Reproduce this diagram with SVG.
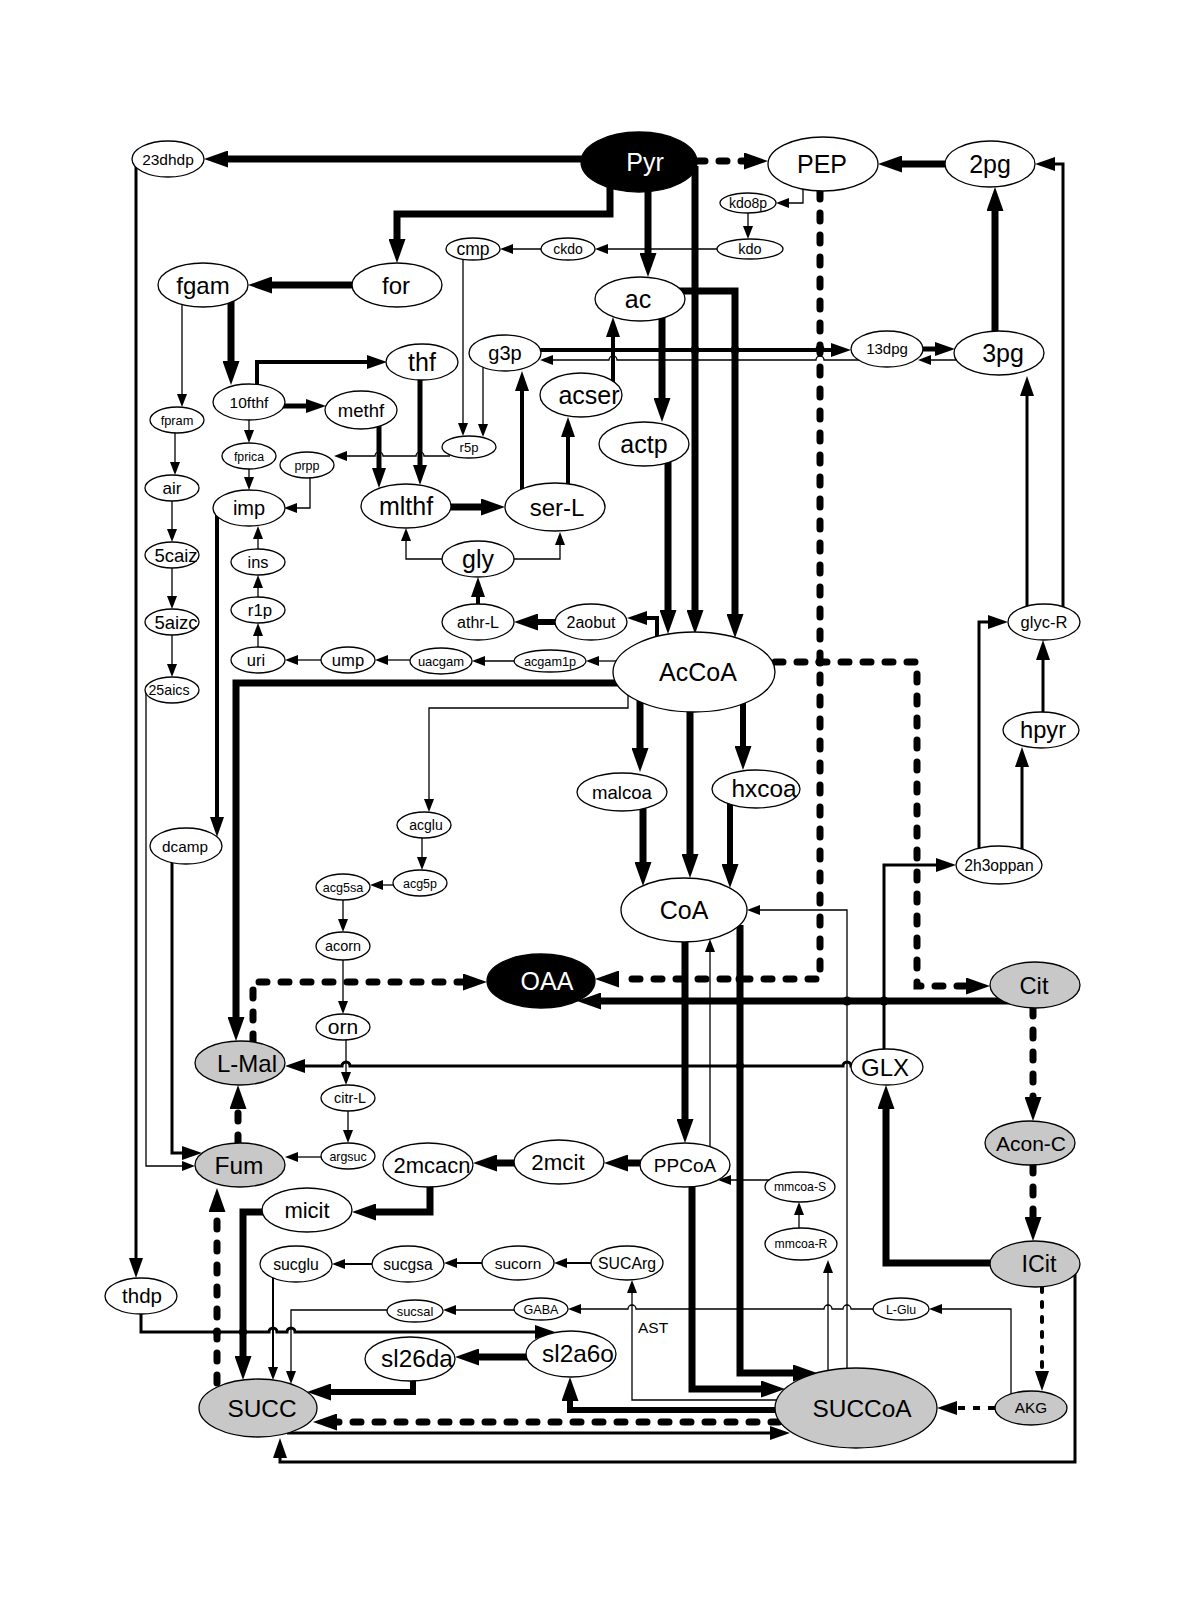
<svg xmlns="http://www.w3.org/2000/svg" width="1200" height="1619" viewBox="0 0 1200 1619">
<style>
text{font-family:"Liberation Sans",Arial,Helvetica,sans-serif;text-anchor:middle;fill:#000}
.nd ellipse{fill:#fff;stroke:#000;stroke-width:1.3}
.gr ellipse{fill:#c8c8c8}
.bk ellipse{fill:#000}
.bk text{fill:#fff}
.e{fill:none;stroke:#000}
.w7{stroke-width:7}
.w6{stroke-width:6}
.w5{stroke-width:5}
.w4{stroke-width:4}
.w3{stroke-width:3}
.w2{stroke-width:2}
.w1{stroke-width:1.3}
.d{stroke-dasharray:8 14;stroke-linecap:round}
.t{stroke-dasharray:5 10;stroke-linecap:round}
.t2{stroke-dasharray:7 8}
.B{marker-end:url(#ab)}
.M{marker-end:url(#am)}
.S{marker-end:url(#as)}
</style>
<defs>
<marker id="ab" markerWidth="24" markerHeight="17" refX="0" refY="8.5" orient="auto" markerUnits="userSpaceOnUse"><path d="M0,0 L24,8.5 L0,17 z"/></marker>
<marker id="am" markerWidth="20" markerHeight="14" refX="0" refY="7" orient="auto" markerUnits="userSpaceOnUse"><path d="M0,0 L20,7 L0,14 z"/></marker>
<marker id="as" markerWidth="13" markerHeight="10" refX="0" refY="5" orient="auto" markerUnits="userSpaceOnUse"><path d="M0,0 L13,5 L0,10 z"/></marker>
</defs>
<rect width="1200" height="1619" fill="#fff"/>
<g id="connectors">
<path class="e w7 B" d="M600,159 H228"/>
<path class="e w7 B" d="M610,185 V214 H397 V239"/>
<path class="e w7 B" d="M370,285 H272"/>
<path class="e w7 B" d="M231,298 V361"/>
<path class="e w7 B" d="M648,185 V253"/>
<path class="e w7 B" d="M695,166 V610"/>
<path class="e w7 B" d="M670,291 H735 V614"/>
<path class="e w7 B" d="M662,315 V398"/>
<path class="e w7 B" d="M668,460 V610"/>
<path class="e w7 B" d="M440,507 H481"/>
<path class="e w7 B" d="M960,164 H902"/>
<path class="e w7 B" d="M995,340 V211"/>
<path class="e w7 B" d="M630,683 H236 V1017"/>
<path class="e w7 B" d="M640,700 V748"/>
<path class="e w7 B" d="M643,805 V862"/>
<path class="e w7 B" d="M690,705 V854"/>
<path class="e w6 B" d="M743,700 V746"/>
<path class="e w6 B" d="M730,800 V864"/>
<path class="e w7 B" d="M1010,1001 H601"/>
<path class="e w7 B" d="M1000,1263 H886 V1109"/>
<path class="e w7 B" d="M685,935 V1119"/>
<path class="e w7 B" d="M650,1163 H628"/>
<path class="e w7 B" d="M520,1163 H497"/>
<path class="e w7 B" d="M430,1180 V1212 H376"/>
<path class="e w7 B" d="M270,1212 H243 V1356"/>
<path class="e w7 B" d="M692,1180 V1389 H761"/>
<path class="e w7 B" d="M740,925 V1373 H793"/>
<path class="e w7 B" d="M535,1357 H479"/>
<path class="e w6 B" d="M413,1375 V1392 H331"/>
<path class="e w6 B" d="M790,1410 H570 V1401"/>
<path class="e w6 B" d="M565,622 H538"/>
<path class="e w7 d B" d="M697,161 H744"/>
<path class="e w7 d B" d="M820,191 V979 H619"/>
<path class="e w7 d B" d="M775,662 H917 V986 H966"/>
<path class="e w7 d B" d="M253,1042 V982 H463"/>
<path class="e w7 d B" d="M1033,1008 V1097"/>
<path class="e w7 d B" d="M1033,1165 V1217"/>
<path class="e w7 d B" d="M779,1422 H337"/>
<path class="e w7 d B" d="M217,1383 V1212"/>
<path class="e w7 d B" d="M238,1143 V1109"/>
<path class="e w4 t M" d="M1042,1287 V1371"/>
<path class="e w4 t2 M" d="M995,1408 H957"/>
<path class="e w4 M" d="M257,390 V362 H367"/>
<path class="e w5 M" d="M280,406 H306"/>
<path class="e w5 M" d="M379,424 V468"/>
<path class="e w5 M" d="M420,376 V465"/>
<path class="e w4 M" d="M535,350 H831"/>
<path class="e w5 M" d="M915,349 H935"/>
<path class="e w4 M" d="M613,385 V337"/>
<path class="e w4 M" d="M522,495 V391"/>
<path class="e w4 M" d="M568,495 V437"/>
<path class="e w4 M" d="M478,612 V597"/>
<path class="e w4 M" d="M657,645 V618 H647"/>
<path class="e w4 M" d="M217,512 V817"/>
<path class="e w3 M" d="M172,855 V1153 H182"/>
<path class="e w3 M" d="M1070,1270 H1075 V1462 H280 V1458"/>
<path class="e w3 M" d="M860,1066 H851 a4,4 0 0 0 -8,0 H350 a4,4 0 0 0 -8,0 H305"/>
<path class="e w3 M" d="M884,1055 V865 H936"/>
<path class="e w3 M" d="M979,855 V622 H988"/>
<path class="e w3 M" d="M1022,855 V767"/>
<path class="e w3 M" d="M1043,720 V660"/>
<path class="e w3 M" d="M1027,612 V396"/>
<path class="e w3 M" d="M1063,612 V164 H1055"/>
<path class="e w3 M" d="M136,165 V1258"/>
<path class="e w3 M" d="M141,1305 V1332 H269 a4,4 0 0 1 8,0 H287 a4,4 0 0 1 8,0 H535"/>
<path class="e w3 M" d="M287,1433 H770"/>
<path class="e w2 S" d="M600,1263 H567"/>
<path class="e w2 S" d="M490,1263 H457"/>
<path class="e w2 S" d="M380,1264 H345"/>
<path class="e w2 S" d="M273,1275 V1367"/>
<path class="e w1 S" d="M182,300 V394"/>
<path class="e w1 S" d="M175,430 V462"/>
<path class="e w1 S" d="M172,495 V529"/>
<path class="e w1 S" d="M172,562 V596"/>
<path class="e w1 S" d="M172,630 V664"/>
<path class="e w1 S" d="M146,692 V1166 H182"/>
<path class="e w1 S" d="M249,415 V430"/>
<path class="e w1 S" d="M249,465 V477"/>
<path class="e w1 S" d="M310,472 V508 H297"/>
<path class="e w1 S" d="M450,456 H424 a4,4 0 0 0 -8,0 H383 a4,4 0 0 0 -8,0 H347"/>
<path class="e w1 S" d="M463,255 V423"/>
<path class="e w1 S" d="M483,362 V424"/>
<path class="e w1 S" d="M803,185 V203 H789"/>
<path class="e w1 S" d="M748,208 V226"/>
<path class="e w1 S" d="M725,249 H608"/>
<path class="e w1 S" d="M550,249 H513"/>
<path class="e w1 S" d="M860,360 H824 a4,4 0 0 0 -8,0 H617 a4,4 0 0 0 -8,0 H553"/>
<path class="e w1 S" d="M965,360 H931"/>
<path class="e w1 S" d="M505,559 H560 V545"/>
<path class="e w1 S" d="M450,559 H406 V541"/>
<path class="e w1 S" d="M258,555 V539"/>
<path class="e w1 S" d="M258,603 V588"/>
<path class="e w1 S" d="M258,652 V636"/>
<path class="e w1 S" d="M330,660 H298"/>
<path class="e w1 S" d="M420,660 H388"/>
<path class="e w1 S" d="M525,661 H485"/>
<path class="e w1 S" d="M625,661 H599"/>
<path class="e w1 S" d="M628,695 V708 H429 V799"/>
<path class="e w1 S" d="M422,835 V857"/>
<path class="e w1 S" d="M400,885 H383"/>
<path class="e w1 S" d="M343,895 V919"/>
<path class="e w1 S" d="M343,955 V1001"/>
<path class="e w1 S" d="M346,1035 V1072"/>
<path class="e w1 S" d="M348,1105 V1130"/>
<path class="e w1 S" d="M330,1157 H298"/>
<path class="e w1 S" d="M710,1150 V952"/>
<path class="e w1 S" d="M847,1375 V910 H760"/>
<path class="e w1 S" d="M828,1380 V1273"/>
<path class="e w1 S" d="M799,1235 V1215"/>
<path class="e w1 S" d="M775,1180 H731"/>
<path class="e w1 S" d="M785,1400 H632 V1293"/>
<path class="e w1 S" d="M1011,1400 V1309 H942"/>
<path class="e w1 S" d="M880,1309 H851 a4,4 0 0 0 -8,0 H832 a4,4 0 0 0 -8,0 H636 a4,4 0 0 0 -8,0 H581"/>
<path class="e w1 S" d="M520,1310 H456"/>
<path class="e w1 S" d="M395,1310 H291 V1371"/>
<g fill="#000">
<circle cx="695" cy="350" r="4.5"/><circle cx="735" cy="350" r="4.5"/><circle cx="820" cy="349" r="4.5"/>
<circle cx="820" cy="662" r="4.5"/><circle cx="740" cy="979" r="4.5"/><circle cx="740" cy="1001" r="4.5"/>
<circle cx="847" cy="1001" r="4.5"/><circle cx="884" cy="1001" r="4.5"/><circle cx="740" cy="1066" r="4"/>
<circle cx="217" cy="1332" r="4"/><circle cx="243" cy="1332" r="4"/>
</g>
<text x="638" y="1333" font-size="15.5" style="text-anchor:start">AST</text>
</g>
<g id="n-23dhdp" class="nd"><ellipse cx="168" cy="159" rx="36" ry="18"/><text x="168" y="165" font-size="15.5">23dhdp</text></g>
<g id="n-Pyr" class="nd bk"><ellipse cx="639" cy="162" rx="58" ry="30"/><text x="645" y="171" font-size="25">Pyr</text></g>
<g id="n-PEP" class="nd"><ellipse cx="823" cy="164" rx="55" ry="27"/><text x="822" y="173" font-size="25">PEP</text></g>
<g id="n-2pg" class="nd"><ellipse cx="990" cy="164" rx="45" ry="23"/><text x="990" y="173" font-size="25">2pg</text></g>
<g id="n-kdo8p" class="nd"><ellipse cx="748" cy="203" rx="28" ry="10"/><text x="748" y="208" font-size="14">kdo8p</text></g>
<g id="n-kdo" class="nd"><ellipse cx="750" cy="249" rx="33" ry="10"/><text x="750" y="254" font-size="14.5">kdo</text></g>
<g id="n-ckdo" class="nd"><ellipse cx="568" cy="249" rx="27" ry="11"/><text x="568" y="254" font-size="14">ckdo</text></g>
<g id="n-cmp" class="nd"><ellipse cx="473" cy="249" rx="27" ry="11"/><text x="473" y="255" font-size="17.5">cmp</text></g>
<g id="n-fgam" class="nd"><ellipse cx="203" cy="285" rx="45" ry="22"/><text x="203" y="294" font-size="24">fgam</text></g>
<g id="n-for" class="nd"><ellipse cx="397" cy="285" rx="45" ry="22"/><text x="396" y="294" font-size="24">for</text></g>
<g id="n-ac" class="nd"><ellipse cx="640" cy="299" rx="45" ry="22"/><text x="638" y="308" font-size="25">ac</text></g>
<g id="n-thf" class="nd"><ellipse cx="422" cy="362" rx="36" ry="18"/><text x="422" y="371" font-size="25">thf</text></g>
<g id="n-g3p" class="nd"><ellipse cx="505" cy="353" rx="36" ry="18"/><text x="505" y="360" font-size="20">g3p</text></g>
<g id="n-13dpg" class="nd"><ellipse cx="887" cy="349" rx="36" ry="18"/><text x="887" y="354" font-size="15">13dpg</text></g>
<g id="n-3pg" class="nd"><ellipse cx="999" cy="353" rx="45" ry="22"/><text x="1003" y="362" font-size="25">3pg</text></g>
<g id="n-acser" class="nd"><ellipse cx="581" cy="395" rx="41" ry="22"/><text x="589" y="404" font-size="25">acser</text></g>
<g id="n-10fthf" class="nd"><ellipse cx="249" cy="402" rx="36" ry="18"/><text x="249" y="408" font-size="15.5">10fthf</text></g>
<g id="n-methf" class="nd"><ellipse cx="361" cy="410" rx="36" ry="19"/><text x="361" y="417" font-size="18.5">methf</text></g>
<g id="n-fpram" class="nd"><ellipse cx="177" cy="420" rx="27" ry="13"/><text x="177" y="425" font-size="12.8">fpram</text></g>
<g id="n-actp" class="nd"><ellipse cx="644" cy="444" rx="45" ry="22"/><text x="644" y="453" font-size="25">actp</text></g>
<g id="n-r5p" class="nd"><ellipse cx="469" cy="447" rx="27" ry="11"/><text x="469" y="452" font-size="13">r5p</text></g>
<g id="n-fprica" class="nd"><ellipse cx="249" cy="456" rx="27" ry="13"/><text x="249" y="461" font-size="12.3">fprica</text></g>
<g id="n-prpp" class="nd"><ellipse cx="307" cy="465" rx="27" ry="13"/><text x="307" y="470" font-size="12.5">prpp</text></g>
<g id="n-air" class="nd"><ellipse cx="172" cy="488" rx="27" ry="13"/><text x="172" y="494" font-size="17">air</text></g>
<g id="n-imp" class="nd"><ellipse cx="249" cy="508" rx="36" ry="18"/><text x="249" y="515" font-size="20">imp</text></g>
<g id="n-mlthf" class="nd"><ellipse cx="406" cy="506" rx="45" ry="22"/><text x="406" y="515" font-size="25">mlthf</text></g>
<g id="n-ser-L" class="nd"><ellipse cx="555" cy="507" rx="50" ry="24"/><text x="557" y="516" font-size="24">ser-L</text></g>
<g id="n-ins" class="nd"><ellipse cx="258" cy="562" rx="27" ry="13"/><text x="258" y="568" font-size="16.4">ins</text></g>
<g id="n-5caiz" class="nd"><ellipse cx="172" cy="555" rx="27" ry="13"/><text x="176" y="562" font-size="18.5">5caiz</text></g>
<g id="n-gly" class="nd"><ellipse cx="478" cy="559" rx="36" ry="18"/><text x="478" y="568" font-size="25">gly</text></g>
<g id="n-r1p" class="nd"><ellipse cx="258" cy="610" rx="27" ry="13"/><text x="260" y="616" font-size="16.8">r1p</text></g>
<g id="n-5aizc" class="nd"><ellipse cx="172" cy="622" rx="27" ry="13"/><text x="176" y="629" font-size="18.5">5aizc</text></g>
<g id="n-athr-L" class="nd"><ellipse cx="478" cy="622" rx="36" ry="18"/><text x="478" y="628" font-size="16">athr-L</text></g>
<g id="n-2aobut" class="nd"><ellipse cx="591" cy="622" rx="36" ry="18"/><text x="591" y="628" font-size="16">2aobut</text></g>
<g id="n-glyc-R" class="nd"><ellipse cx="1044" cy="622" rx="36" ry="18"/><text x="1044" y="628" font-size="16.5">glyc-R</text></g>
<g id="n-uri" class="nd"><ellipse cx="258" cy="660" rx="27" ry="13"/><text x="256" y="666" font-size="16.5">uri</text></g>
<g id="n-ump" class="nd"><ellipse cx="348" cy="660" rx="27" ry="13"/><text x="348" y="666" font-size="16.6">ump</text></g>
<g id="n-uacgam" class="nd"><ellipse cx="441" cy="661" rx="31" ry="13"/><text x="441" y="666" font-size="13">uacgam</text></g>
<g id="n-acgam1p" class="nd"><ellipse cx="550" cy="661" rx="36" ry="11"/><text x="550" y="666" font-size="12.7">acgam1p</text></g>
<g id="n-AcCoA" class="nd"><ellipse cx="694" cy="672" rx="81" ry="40"/><text x="698" y="681" font-size="25">AcCoA</text></g>
<g id="n-25aics" class="nd"><ellipse cx="172" cy="690" rx="27" ry="13"/><text x="169" y="695" font-size="14.2">25aics</text></g>
<g id="n-hpyr" class="nd"><ellipse cx="1041" cy="730" rx="38" ry="18"/><text x="1043" y="738" font-size="23.7">hpyr</text></g>
<g id="n-malcoa" class="nd"><ellipse cx="622" cy="792" rx="45" ry="19"/><text x="622" y="799" font-size="18.6">malcoa</text></g>
<g id="n-hxcoa" class="nd"><ellipse cx="756" cy="789" rx="44" ry="19"/><text x="764" y="797" font-size="24.4">hxcoa</text></g>
<g id="n-acglu" class="nd"><ellipse cx="424" cy="825" rx="27" ry="13"/><text x="426" y="830" font-size="14">acglu</text></g>
<g id="n-dcamp" class="nd"><ellipse cx="186" cy="846" rx="36" ry="18"/><text x="185" y="852" font-size="15.3">dcamp</text></g>
<g id="n-2h3oppan" class="nd"><ellipse cx="999" cy="865" rx="43" ry="19"/><text x="999" y="871" font-size="15.6">2h3oppan</text></g>
<g id="n-acg5p" class="nd"><ellipse cx="420" cy="883" rx="27" ry="13"/><text x="420" y="888" font-size="12.5">acg5p</text></g>
<g id="n-acg5sa" class="nd"><ellipse cx="343" cy="887" rx="27" ry="13"/><text x="343" y="892" font-size="12.6">acg5sa</text></g>
<g id="n-CoA" class="nd"><ellipse cx="684" cy="910" rx="63" ry="32"/><text x="684" y="919" font-size="25">CoA</text></g>
<g id="n-acorn" class="nd"><ellipse cx="343" cy="946" rx="27" ry="14"/><text x="343" y="951" font-size="14.4">acorn</text></g>
<g id="n-OAA" class="nd bk"><ellipse cx="541" cy="981" rx="54" ry="27"/><text x="547" y="990" font-size="25">OAA</text></g>
<g id="n-Cit" class="nd gr"><ellipse cx="1035" cy="985" rx="45" ry="23"/><text x="1034" y="994" font-size="23.7">Cit</text></g>
<g id="n-orn" class="nd"><ellipse cx="343" cy="1027" rx="27" ry="13"/><text x="343" y="1034" font-size="21">orn</text></g>
<g id="n-L-Mal" class="nd gr"><ellipse cx="240" cy="1063" rx="45" ry="22"/><text x="247" y="1072" font-size="24">L-Mal</text></g>
<g id="n-GLX" class="nd"><ellipse cx="887" cy="1067" rx="36" ry="18"/><text x="885" y="1076" font-size="24">GLX</text></g>
<g id="n-citr-L" class="nd"><ellipse cx="348" cy="1098" rx="27" ry="13"/><text x="350" y="1103" font-size="14.3">citr-L</text></g>
<g id="n-Acon-C" class="nd gr"><ellipse cx="1030" cy="1143" rx="45" ry="22"/><text x="1031" y="1151" font-size="21">Acon-C</text></g>
<g id="n-Fum" class="nd gr"><ellipse cx="240" cy="1165" rx="45" ry="22"/><text x="239" y="1174" font-size="24.5">Fum</text></g>
<g id="n-argsuc" class="nd"><ellipse cx="348" cy="1156" rx="27" ry="13"/><text x="348" y="1161" font-size="12.4">argsuc</text></g>
<g id="n-2mcacn" class="nd"><ellipse cx="428" cy="1165" rx="45" ry="22"/><text x="432" y="1173" font-size="22">2mcacn</text></g>
<g id="n-2mcit" class="nd"><ellipse cx="559" cy="1162" rx="45" ry="22"/><text x="558" y="1170" font-size="22.3">2mcit</text></g>
<g id="n-PPCoA" class="nd"><ellipse cx="685" cy="1165" rx="45" ry="22"/><text x="685" y="1172" font-size="19">PPCoA</text></g>
<g id="n-mmcoa-S" class="nd"><ellipse cx="800" cy="1187" rx="35" ry="15"/><text x="800" y="1191" font-size="12.2">mmcoa-S</text></g>
<g id="n-micit" class="nd"><ellipse cx="307" cy="1210" rx="45" ry="22"/><text x="307" y="1218" font-size="22">micit</text></g>
<g id="n-mmcoa-R" class="nd"><ellipse cx="801" cy="1244" rx="36" ry="16"/><text x="801" y="1248" font-size="12.2">mmcoa-R</text></g>
<g id="n-sucglu" class="nd"><ellipse cx="296" cy="1264" rx="36" ry="18"/><text x="296" y="1270" font-size="15.8">sucglu</text></g>
<g id="n-sucgsa" class="nd"><ellipse cx="408" cy="1264" rx="36" ry="18"/><text x="408" y="1270" font-size="15.6">sucgsa</text></g>
<g id="n-sucorn" class="nd"><ellipse cx="518" cy="1263" rx="36" ry="17"/><text x="518" y="1269" font-size="15.5">sucorn</text></g>
<g id="n-SUCArg" class="nd"><ellipse cx="627" cy="1263" rx="36" ry="17"/><text x="627" y="1269" font-size="15.8">SUCArg</text></g>
<g id="n-ICit" class="nd gr"><ellipse cx="1035" cy="1264" rx="45" ry="23"/><text x="1039" y="1272" font-size="23.3">ICit</text></g>
<g id="n-thdp" class="nd"><ellipse cx="141" cy="1296" rx="36" ry="18"/><text x="142" y="1303" font-size="20.5">thdp</text></g>
<g id="n-sucsal" class="nd"><ellipse cx="415" cy="1311" rx="28" ry="11"/><text x="415" y="1316" font-size="12.9">sucsal</text></g>
<g id="n-GABA" class="nd"><ellipse cx="541" cy="1309" rx="27" ry="11"/><text x="541" y="1314" font-size="12.6">GABA</text></g>
<g id="n-L-Glu" class="nd"><ellipse cx="901" cy="1309" rx="28" ry="11"/><text x="901" y="1314" font-size="12.3">L-Glu</text></g>
<g id="n-sl2a6o" class="nd"><ellipse cx="571" cy="1354" rx="45" ry="23"/><text x="578" y="1362" font-size="24.4">sl2a6o</text></g>
<g id="n-sl26da" class="nd"><ellipse cx="410" cy="1359" rx="45" ry="22"/><text x="417" y="1367" font-size="24.4">sl26da</text></g>
<g id="n-SUCC" class="nd gr"><ellipse cx="258" cy="1408" rx="59" ry="29"/><text x="262" y="1417" font-size="24.4">SUCC</text></g>
<g id="n-SUCCoA" class="nd gr"><ellipse cx="856" cy="1408" rx="81" ry="40"/><text x="862" y="1417" font-size="24.4">SUCCoA</text></g>
<g id="n-AKG" class="nd gr"><ellipse cx="1031" cy="1408" rx="36" ry="17"/><text x="1031" y="1413" font-size="15.3">AKG</text></g>
</svg>
